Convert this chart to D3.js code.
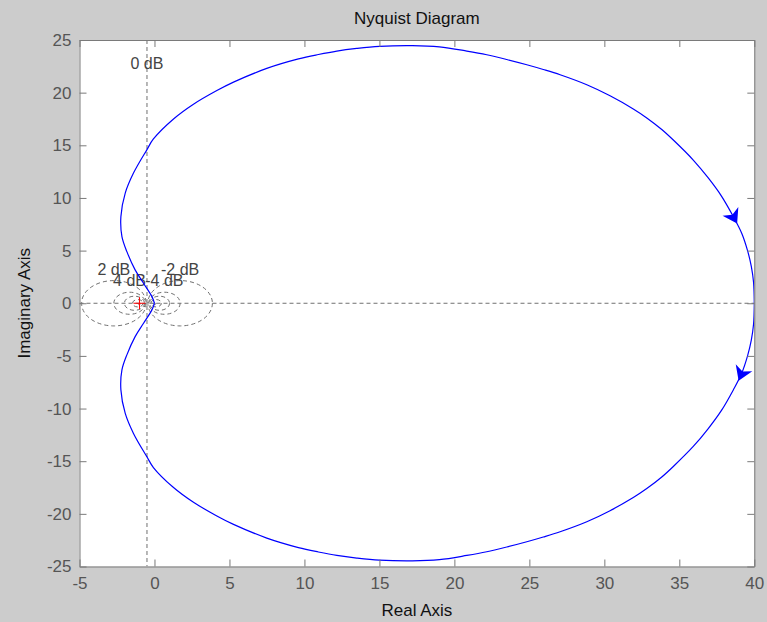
<!DOCTYPE html>
<html>
<head>
    <meta charset="utf-8" />
    <title>Nyquist Diagram</title>
    <style>
    body { margin: 0; background: #cccccc; }
    svg { display: block; }
    text { font-family: "Liberation Sans", Arial, sans-serif; }
    .tick text { fill: #555; font-size: 17px; }
    .tick line, .domain { stroke: #7a7a7a; }
    .grid { fill: none; stroke: #707070; stroke-width: 1; stroke-dasharray: 4,3; }
    .glabel { fill: #444; font-size: 16px; text-anchor: middle; }
    </style>
</head>
<body>
<svg id="chart" width="767" height="622"></svg>
<script src="https://d3js.org/d3.v7.min.js"></script>
<script>
    // upper branch (negative frequencies), origin -> 40
    var upperRe = [0, -0.17, -0.73, -1.29, -1.84, -2.17, -2.24, -1.95, -1.4, -0.51, -0.07, 1.27, 2.6, 4.16, 5.27, 7.49, 9.6, 10.93, 12.16, 13.49, 15.0, 17.2, 19.0, 20.83, 22.16, 23.49, 24.83, 25.93, 27.05, 28.83, 30.38, 31.93, 32.83, 33.83, 34.6, 35.93, 36.93, 37.8, 38.6, 39.16, 39.55, 39.8, 39.95, 40];
    var upperIm = [0, 0.63, 1.9, 3.17, 4.9, 6.33, 8.23, 10.46, 12.36, 14.57, 15.6, 17.5, 18.9, 20.2, 21.0, 22.3, 23.2, 23.62, 23.95, 24.2, 24.4, 24.47, 24.35, 23.95, 23.6, 23.15, 22.65, 22.2, 21.7, 20.75, 19.7, 18.45, 17.6, 16.5, 15.5, 13.6, 11.9, 10.2, 8.23, 6.65, 5.0, 3.5, 2.0, 0];
    // lower branch (positive frequencies), 40 -> origin
    var lowerRe = [40, 39.95, 39.8, 39.55, 39.16, 38.6, 37.8, 36.93, 35.93, 34.6, 33.83, 32.83, 31.93, 30.38, 28.83, 27.05, 25.93, 24.83, 23.49, 22.16, 20.83, 19.0, 17.2, 15.0, 13.49, 12.16, 10.93, 9.6, 7.49, 5.27, 4.16, 2.6, 1.27, -0.07, -0.51, -1.4, -1.95, -2.24, -2.17, -1.84, -1.29, -0.73, -0.17, 0];
    var lowerIm = [0, -2.0, -3.5, -5.0, -6.65, -8.23, -10.2, -11.9, -13.6, -15.5, -16.5, -17.6, -18.45, -19.7, -20.75, -21.7, -22.2, -22.65, -23.15, -23.6, -23.95, -24.35, -24.47, -24.4, -24.2, -23.95, -23.62, -23.2, -22.3, -21.0, -20.2, -18.9, -17.5, -15.6, -14.57, -12.36, -10.46, -8.23, -6.33, -4.9, -3.17, -1.9, -0.63, 0];
    var upperArrowIdx = 38, lowerArrowIdx = 4;

    var xTicks = [-5, 0, 5, 10, 15, 20, 25, 30, 35, 40];
    var yTicks = [-25, -20, -15, -10, -5, 0, 5, 10, 15, 20, 25];
    var mDb = [-20, -10, -6, -4, -2, 2, 4, 6, 10, 20];
    var mLabels = [2, -2, 4, -4];

    var svg = d3.select("#chart");
    var pLeft = 79.5, pRight = 754.3, pTop = 40, pBottom = 566.5;
    var x = d3.scaleLinear().domain([-5, 40]).range([pLeft, pRight]);
    var y = d3.scaleLinear().domain([-25, 25]).range([pBottom, pTop]);

    svg.append("rect").attr("x", pLeft).attr("y", pTop)
        .attr("width", pRight - pLeft).attr("height", pBottom - pTop).attr("fill", "#fff");

    svg.append("clipPath").attr("id", "clip").append("rect")
        .attr("x", pLeft).attr("y", pTop).attr("width", pRight - pLeft).attr("height", pBottom - pTop);
    var g = svg.append("g").attr("clip-path", "url(#clip)");

    // M circles
    mDb.forEach(function(db) {
        var m = Math.pow(10, db / 20), m2 = m * m;
        var c = -m2 / (m2 - 1), r = Math.abs(m / (m2 - 1));
        g.append("ellipse").attr("class", "grid")
            .attr("cx", x(c)).attr("cy", y(0))
            .attr("rx", x(c + r) - x(c)).attr("ry", y(0) - y(r));
    });
    g.append("line").attr("class", "grid")
        .attr("x1", pLeft).attr("x2", pRight).attr("y1", y(0)).attr("y2", y(0));
    g.append("line").attr("class", "grid")
        .attr("x1", x(-0.5)).attr("x2", x(-0.5)).attr("y1", pTop).attr("y2", pBottom);

    mLabels.forEach(function(db) {
        var m = Math.pow(10, db / 20), m2 = m * m;
        var c = -m2 / (m2 - 1), r = Math.abs(m / (m2 - 1));
        g.append("text").attr("class", "glabel")
            .attr("x", x(c)).attr("y", y(r) - 6).text(db + " dB");
    });
    g.append("text").attr("class", "glabel").attr("x", x(-0.5)).attr("y", y(22.2)).text("0 dB");

    // curve
    var line = d3.line().curve(d3.curveCatmullRom.alpha(0.5))
        .x(function(d) { return x(d[0]); }).y(function(d) { return y(d[1]); });
    var up = upperRe.map(function(v, i) { return [v, upperIm[i]]; });
    var lo = lowerRe.map(function(v, i) { return [v, lowerIm[i]]; });
    [up, lo].forEach(function(pts) {
        g.append("path").attr("d", line(pts)).attr("fill", "none")
            .attr("stroke", "#0000ff").attr("stroke-width", 1.2);
    });

    function arrow(pts, i) {
        var p = pts[i], a = pts[i - 1], b = pts[i + 1];
        var ang = Math.atan2(y(b[1]) - y(a[1]), x(b[0]) - x(a[0])) * 180 / Math.PI;
        g.append("path").attr("d", "M8,0L-6,-9L-2,0L-6,9Z")
            .attr("fill", "#0000ff")
            .attr("transform", "translate(" + x(p[0]) + "," + y(p[1]) + ") rotate(" + ang + ")");
    }
    arrow(up, upperArrowIdx);
    arrow(lo, lowerArrowIdx);

    // critical point
    g.append("path").attr("d", "M" + (x(-1) - 6) + "," + y(0) + "h12M" + x(-1) + "," + (y(0) - 6) + "v12")
        .attr("stroke", "#ff0000").attr("stroke-width", 1);

    // axes
    var fmt = function(d) { return String(d); };
    svg.append("g").attr("transform", "translate(0," + pBottom + ")")
        .call(d3.axisBottom(x).tickValues(xTicks).tickFormat(fmt).tickSize(-7).tickPadding(10).tickSizeOuter(0));
    svg.append("g").attr("transform", "translate(0," + pTop + ")")
        .call(d3.axisTop(x).tickValues(xTicks).tickSize(-7).tickFormat("").tickSizeOuter(0));
    svg.append("g").attr("transform", "translate(" + pLeft + ",0)")
        .call(d3.axisLeft(y).tickValues(yTicks).tickFormat(fmt).tickSize(-7).tickPadding(8).tickSizeOuter(0));
    svg.append("g").attr("transform", "translate(" + pRight + ",0)")
        .call(d3.axisRight(y).tickValues(yTicks).tickSize(-7).tickFormat("").tickSizeOuter(0));
    svg.selectAll(".tick text").attr("font-family", null).attr("font-size", null);

    svg.append("text").attr("x", (pLeft + pRight) / 2).attr("y", 24)
        .attr("text-anchor", "middle").attr("font-size", 17).attr("fill", "#111").text("Nyquist Diagram");
    svg.append("text").attr("x", (pLeft + pRight) / 2).attr("y", 616)
        .attr("text-anchor", "middle").attr("font-size", 17).attr("fill", "#111").text("Real Axis");
    svg.append("text").attr("transform", "translate(30," + y(0) + ") rotate(-90)")
        .attr("text-anchor", "middle").attr("font-size", 17).attr("fill", "#111").text("Imaginary Axis");
</script>
</body>
</html>
